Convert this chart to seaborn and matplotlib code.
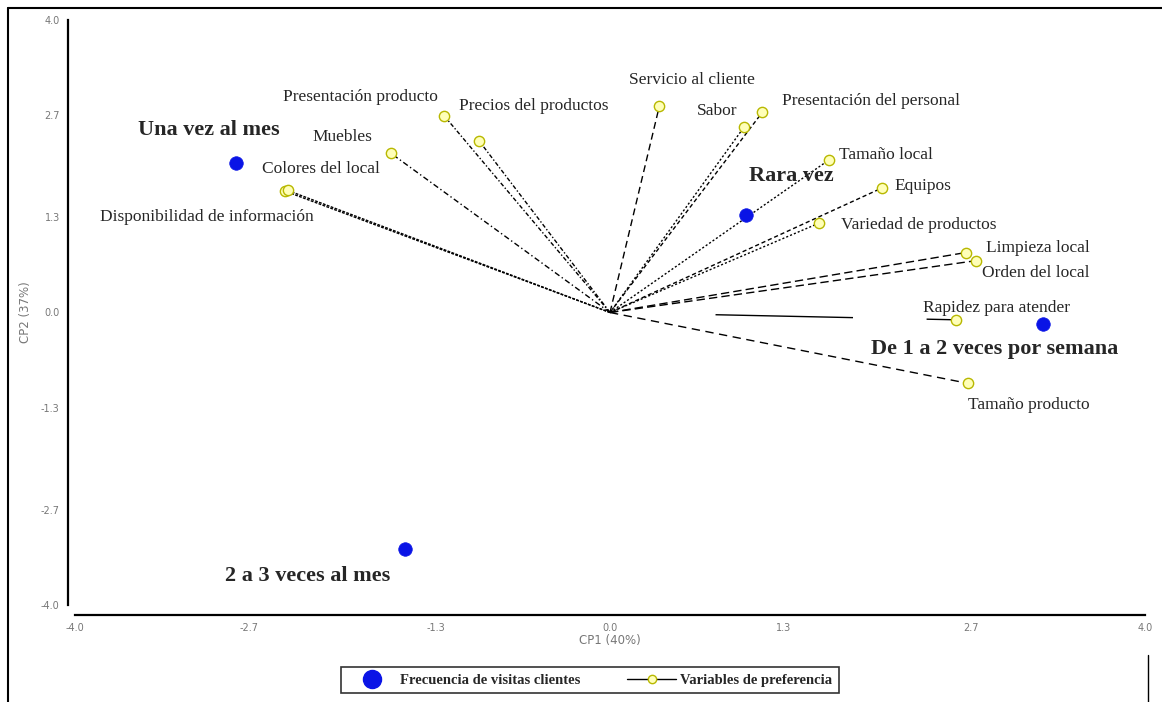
import pandas as pd
import matplotlib.pyplot as plt
import seaborn as sns
from matplotlib.lines import Line2D

# Variables de preferencia (vector ends, CP1 / CP2)
var_names = ["Disponibilidad de información", "Colores del local", "Muebles",
             "Presentación producto", "Precios del productos", "Servicio al cliente",
             "Sabor", "Presentación del personal", "Tamaño local", "Equipos",
             "Variedad de productos", "Limpieza local", "Orden del local",
             "Rapidez para atender", "Tamaño producto"]
var_cp1 = [-2.43, -2.41, -1.64, -1.24, -0.98, 0.37, 1.00, 1.14, 1.64, 2.03,
           1.56, 2.66, 2.74, 2.59, 2.68]
var_cp2 = [1.66, 1.67, 2.18, 2.69, 2.35, 2.83, 2.53, 2.74, 2.09, 1.70,
           1.22, 0.82, 0.71, -0.10, -0.97]

# Frecuencia de visitas clientes
grp_names = ["Una vez al mes", "Rara vez", "De 1 a 2 veces por semana", "2 a 3 veces al mes"]
grp_cp1 = [-2.80, 1.02, 3.24, -1.53]
grp_cp2 = [2.05, 1.33, -0.16, -3.24]

ticks = [-4.0, -2.7, -1.3, 0.0, 1.3, 2.7, 4.0]
tick_labels = ["-4.0", "-2.7", "-1.3", "0.0", "1.3", "2.7", "4.0"]

df_var = pd.DataFrame({"CP1": var_cp1, "CP2": var_cp2, "nombre": var_names})
df_grp = pd.DataFrame({"CP1": grp_cp1, "CP2": grp_cp2, "nombre": grp_names})

sns.set_style("white")
plt.rcParams["font.family"] = ["Liberation Serif", "DejaVu Serif"]

fig = plt.figure(figsize=(11.62, 7.02), dpi=100)
ax = fig.add_axes([75 / 1162, 1 - 605 / 702, 1070 / 1162, 585 / 702])

# line styles for the vectors
fine = (0, (3, 2))
dots = (0, (1.5, 1.5))
styles = {
    "Disponibilidad de información": (0, (2, 1)),
    "Colores del local": (0, (2, 1)),
    "Muebles": (0, (4, 2, 1, 2)),
    "Presentación producto": (0, (3, 1.5, 1, 1.5)),
    "Precios del productos": (0, (3, 1.5, 1, 1.5)),
    "Servicio al cliente": (0, (5, 3)),
    "Sabor": dots,
    "Presentación del personal": fine,
    "Tamaño local": dots,
    "Equipos": fine,
    "Variedad de productos": dots,
    "Limpieza local": (0, (6, 3)),
    "Orden del local": (0, (6, 3)),
    "Rapidez para atender": (212, (99, 53, 60, 76)),
    "Tamaño producto": (0, (6, 4)),
}

for _, r in df_var.iterrows():
    ax.plot([0, r["CP1"]], [0, r["CP2"]], color="black", lw=1.0,
            linestyle=styles[r["nombre"]], zorder=1)

sns.scatterplot(data=df_var, x="CP1", y="CP2", ax=ax, s=55, color="#ffffb8",
                edgecolor="#b8b800", linewidth=1.0, zorder=3, legend=False)
sns.scatterplot(data=df_grp, x="CP1", y="CP2", ax=ax, s=95, color="#0a14e6",
                edgecolor="#0a14e6", linewidth=0.5, zorder=4, legend=False)

# label offsets in pixels (dx, dy, ha)
var_off = {
    "Disponibilidad de información": (29, -26, "right"),
    "Colores del local": (-26, 21, "left"),
    "Muebles": (-18, 16, "right"),
    "Presentación producto": (-6, 19, "right"),
    "Precios del productos": (-20, 35, "left"),
    "Servicio al cliente": (32, 26, "center"),
    "Sabor": (-6, 16, "right"),
    "Presentación del personal": (20, 11, "left"),
    "Tamaño local": (10, 5, "left"),
    "Equipos": (13, 2, "left"),
    "Variedad de productos": (22, -2, "left"),
    "Limpieza local": (20, 5, "left"),
    "Orden del local": (6, -12, "left"),
    "Rapidez para atender": (-33, 12, "left"),
    "Tamaño producto": (0, -22, "left"),
}
for _, r in df_var.iterrows():
    dx, dy, ha = var_off[r["nombre"]]
    ax.annotate(r["nombre"], (r["CP1"], r["CP2"]), xytext=(dx, dy),
                textcoords="offset pixels", ha=ha, va="center", fontsize=12.5)

grp_off = {
    "Una vez al mes": (-27, 33, "center"),
    "Rara vez": (3, 39, "left"),
    "De 1 a 2 veces por semana": (-49, -25, "center"),
    "2 a 3 veces al mes": (-98, -27, "center"),
}
for _, r in df_grp.iterrows():
    dx, dy, ha = grp_off[r["nombre"]]
    ax.annotate(r["nombre"], (r["CP1"], r["CP2"]), xytext=(dx, dy),
                textcoords="offset pixels", ha=ha, va="center", fontsize=16,
                fontweight="bold")

ax.set_xlim(-4.0, 4.0)
ax.set_ylim(-4.0, 4.0)
ax.tick_params(axis="both", direction="out", length=3, width=1, color="black",
               labelsize=7, labelcolor="#777777", pad=3,
               labelfontfamily="DejaVu Sans")
ax.set_xticks(ticks)
ax.set_xticklabels(tick_labels)
ax.set_yticks(ticks)
ax.set_yticklabels(tick_labels)
ax.set_xlabel("CP1 (40%)", fontsize=8.5, color="#777777", family="DejaVu Sans", labelpad=1)
ax.set_ylabel("CP2 (37%)", fontsize=8.5, color="#777777", family="DejaVu Sans", labelpad=6)

for side in ["top", "right"]:
    ax.spines[side].set_visible(False)
ax.spines["left"].set_position(("outward", 5))
ax.spines["bottom"].set_position(("outward", 7))
for side in ["left", "bottom"]:
    ax.spines[side].set_color("black")
    ax.spines[side].set_linewidth(1.6)

# outer frame
fig.add_artist(Line2D([8 / 1162, 8 / 1162], [0, 1 - 8 / 702], color="black", lw=1.5,
                      transform=fig.transFigure))
fig.add_artist(Line2D([8 / 1162, 1], [1 - 8 / 702, 1 - 8 / 702], color="black", lw=1.5,
                      transform=fig.transFigure))
fig.add_artist(Line2D([1148 / 1162, 1148 / 1162], [0, 1 - 655 / 702], color="black", lw=1.0,
                      transform=fig.transFigure))

handles = [
    Line2D([], [], marker="o", linestyle="none", markersize=13,
           markerfacecolor="#0a14e6", markeredgecolor="#0a14e6"),
    Line2D([], [], marker="o", color="black", lw=1.0, markersize=6,
           markerfacecolor="#ffffb8", markeredgecolor="#b8b800"),
]
leg = fig.legend(handles, ["Frecuencia de visitas clientes", "Variables de preferencia"],
                 loc="center", bbox_to_anchor=(590 / 1162, 1 - 680 / 702), ncol=2,
                 frameon=True, fancybox=False, edgecolor="black",
                 prop={"weight": "bold", "size": 10.5}, handlelength=3.3,
                 columnspacing=3.2, borderpad=0.45, handletextpad=0.3,
                 borderaxespad=0)
leg.get_frame().set_linewidth(1.2)

fig.savefig("out.png", dpi=100)
